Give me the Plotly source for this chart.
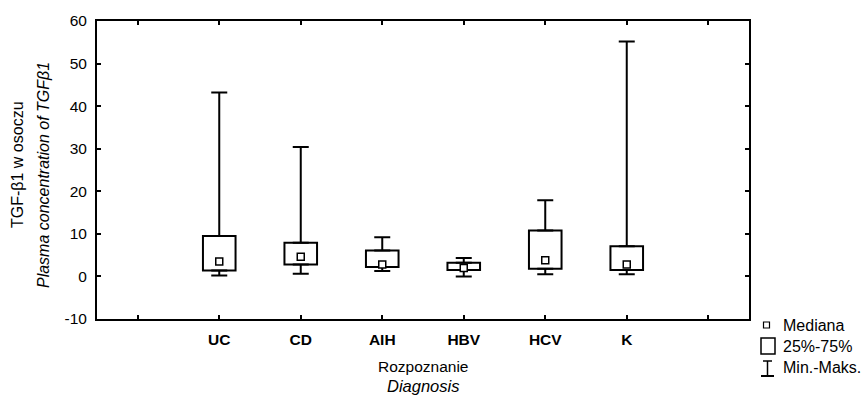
import plotly.graph_objects as go

categories = ["UC", "CD", "AIH", "HBV", "HCV", "K"]
positions = [1, 2, 3, 4, 5, 6]
minimum = [0.2, 0.6, 1.3, 0.0, 0.5, 0.5]
q1 = [1.4, 2.8, 2.2, 1.5, 1.8, 1.5]
median = [3.5, 4.6, 2.8, 2.0, 3.8, 2.8]
q3 = [9.5, 7.9, 6.1, 3.2, 10.8, 7.1]
maximum = [43.2, 30.4, 9.2, 4.3, 17.9, 55.2]
tick_vals = [0, 1, 2, 3, 4, 5, 6, 7]
tick_text = [""] + ["<b>%s</b>" % c for c in categories] + [""]
y_tick_vals = [-10, 0, 10, 20, 30, 40, 50, 60]
y_tick_text = ["-10", "0", "10", "20", "30", "40", "50", "60"]

FONT = "Liberation Sans, Arial, sans-serif"
W, H = 862, 396
L, R, T, B = 97, 113, 21, 77
PW, PH = W - L - R, H - T - B

def px(x):
    return (x - L) / PW

def py(y):
    return (H - B - y) / PH

fig = go.Figure()

fig.add_trace(go.Bar(
    x=positions, base=q1, y=[b - a for a, b in zip(q1, q3)], width=0.4,
    marker=dict(color="white", line=dict(color="black", width=2)),
    showlegend=False, hoverinfo="skip"))

fig.add_trace(go.Scatter(
    x=positions, y=q3, mode="markers",
    marker=dict(size=1, color="rgba(0,0,0,0)"),
    error_y=dict(type="data", symmetric=False,
                 array=[m - q for m, q in zip(maximum, q3)],
                 arrayminus=[0] * len(q3), width=8, thickness=2, color="black"),
    showlegend=False, hoverinfo="skip"))

fig.add_trace(go.Scatter(
    x=positions, y=q1, mode="markers",
    marker=dict(size=1, color="rgba(0,0,0,0)"),
    error_y=dict(type="data", symmetric=False,
                 array=[0] * len(q1),
                 arrayminus=[q - m for q, m in zip(q1, minimum)], width=8, thickness=2, color="black"),
    showlegend=False, hoverinfo="skip"))

fig.add_trace(go.Scatter(
    x=positions, y=median, mode="markers",
    marker=dict(symbol="square", size=7, color="white", line=dict(color="black", width=1.5)),
    showlegend=False, hoverinfo="skip"))

axis_common = dict(showline=True, linecolor="black", linewidth=2, mirror="ticks",
                   ticks="inside", ticklen=4, tickwidth=1.5, tickcolor="black",
                   showgrid=False, zeroline=False)

fig.update_xaxes(range=[-0.5, 7.5], tickmode="array", tickvals=tick_vals, ticktext=tick_text,
                 ticklabelstandoff=5, tickfont=dict(family=FONT, size=15.5, color="black"),
                 **axis_common)
fig.update_yaxes(range=[-10, 60], tickmode="array", tickvals=y_tick_vals, ticktext=y_tick_text,
                 ticklabelstandoff=5, tickfont=dict(family=FONT, size=15.5, color="black"),
                 **axis_common)

annotations = [
    dict(text="TGF-β1 w osoczu", x=px(17), y=py(165), textangle=-90, size=16),
    dict(text="<i>Plasma concentration of TGFβ1</i>", x=px(43), y=py(175), textangle=-90, size=16),
    dict(text="Rozpoznanie", x=px(423), y=py(366), size=15.5),
    dict(text="<i>Diagnosis</i>", x=px(423), y=py(386), size=16.5),
    dict(text="Mediana", x=px(781), y=py(325), xanchor="left", size=16),
    dict(text="25%-75%", x=px(781), y=py(346.5), xanchor="left", size=16),
    dict(text="Min.-Maks.", x=px(781), y=py(367), xanchor="left", size=16),
]
for a in annotations:
    a.setdefault("xanchor", "center")
    size = a.pop("size")
    a.update(xref="paper", yref="paper", yanchor="middle", showarrow=False,
             font=dict(family=FONT, size=size, color="black"))

shapes = [
    dict(type="rect", x0=px(763.5), x1=px(769.5), y0=py(328), y1=py(322), line=dict(color="black", width=1.2)),
    dict(type="rect", x0=px(761), x1=px(775), y0=py(354), y1=py(338), line=dict(color="black", width=1.5)),
    dict(type="line", x0=px(767.5), x1=px(767.5), y0=py(376), y1=py(361), line=dict(color="black", width=1.5)),
    dict(type="line", x0=px(763), x1=px(772), y0=py(361), y1=py(361), line=dict(color="black", width=1.5)),
    dict(type="line", x0=px(761), x1=px(774), y0=py(376), y1=py(376), line=dict(color="black", width=2)),
]
for s in shapes:
    s.update(xref="paper", yref="paper")

fig.update_layout(width=W, height=H, margin=dict(l=L, r=R, t=T, b=B),
                  paper_bgcolor="white", plot_bgcolor="white",
                  annotations=annotations, shapes=shapes, showlegend=False,
                  font=dict(family=FONT, color="black"), barmode="overlay")

fig.write_html("out.html")
